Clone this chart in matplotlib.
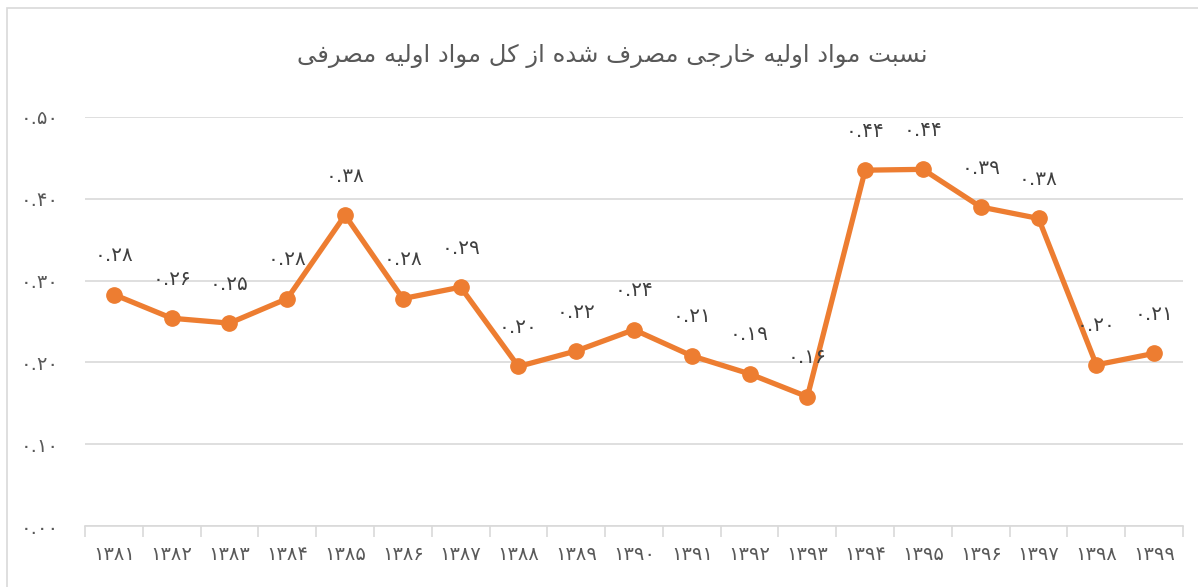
import matplotlib.pyplot as plt
from matplotlib.patches import Rectangle

# Persian chart: share of imported raw materials in total raw materials used
years = ['۱۳۸۱', '۱۳۸۲', '۱۳۸۳', '۱۳۸۴', '۱۳۸۵', '۱۳۸۶', '۱۳۸۷', '۱۳۸۸', '۱۳۸۹', '۱۳۹۰',
         '۱۳۹۱', '۱۳۹۲', '۱۳۹۳', '۱۳۹۴', '۱۳۹۵', '۱۳۹۶', '۱۳۹۷', '۱۳۹۸', '۱۳۹۹']
values = [0.283, 0.254, 0.248, 0.278, 0.380, 0.278, 0.292, 0.195, 0.214, 0.240,
          0.208, 0.186, 0.158, 0.435, 0.436, 0.390, 0.376, 0.197, 0.211]
value_labels = ['۰.۲۸', '۰.۲۶', '۰.۲۵', '۰.۲۸', '۰.۳۸', '۰.۲۸', '۰.۲۹', '۰.۲۰', '۰.۲۲', '۰.۲۴',
                '۰.۲۱', '۰.۱۹', '۰.۱۶', '۰.۴۴', '۰.۴۴', '۰.۳۹', '۰.۳۸', '۰.۲۰', '۰.۲۱']
ytick_vals = [0.0, 0.1, 0.2, 0.3, 0.4, 0.5]
ytick_labels = ['۰.۰۰', '۰.۱۰', '۰.۲۰', '۰.۳۰', '۰.۴۰', '۰.۵۰']
title = 'نسبت مواد اولیه خارجی مصرف شده از کل مواد اولیه مصرفی'

# matplotlib has no arabic shaping, so pick presentation forms by hand
# forms: isolated, final, initial, medial
FORMS = {
    'ا': ('\uFE8D', '\uFE8E', None, None),
    'ب': ('\uFE8F', '\uFE90', '\uFE91', '\uFE92'),
    'ت': ('\uFE95', '\uFE96', '\uFE97', '\uFE98'),
    'ج': ('\uFE9D', '\uFE9E', '\uFE9F', '\uFEA0'),
    'خ': ('\uFEA5', '\uFEA6', '\uFEA7', '\uFEA8'),
    'د': ('\uFEA9', '\uFEAA', None, None),
    'ر': ('\uFEAD', '\uFEAE', None, None),
    'ز': ('\uFEAF', '\uFEB0', None, None),
    'س': ('\uFEB1', '\uFEB2', '\uFEB3', '\uFEB4'),
    'ش': ('\uFEB5', '\uFEB6', '\uFEB7', '\uFEB8'),
    'ص': ('\uFEB9', '\uFEBA', '\uFEBB', '\uFEBC'),
    'ف': ('\uFED1', '\uFED2', '\uFED3', '\uFED4'),
    'ل': ('\uFEDD', '\uFEDE', '\uFEDF', '\uFEE0'),
    'م': ('\uFEE1', '\uFEE2', '\uFEE3', '\uFEE4'),
    'ن': ('\uFEE5', '\uFEE6', '\uFEE7', '\uFEE8'),
    'ه': ('\uFEE9', '\uFEEA', '\uFEEB', '\uFEEC'),
    'و': ('\uFEED', '\uFEEE', None, None),
    'ی': ('\uFBFC', '\uFBFD', '\uFBFE', '\uFBFF'),
    'ک': ('\uFB8E', '\uFB8F', '\uFB90', '\uFB91'),
}


def joins_next(ch):
    return ch in FORMS and FORMS[ch][2] is not None


def shape(text):
    out = []
    for i, ch in enumerate(text):
        if ch not in FORMS:
            out.append(ch)
            continue
        prev = text[i - 1] if i > 0 else ' '
        nxt = text[i + 1] if i < len(text) - 1 else ' '
        a = joins_next(prev)
        b = joins_next(ch) and nxt in FORMS
        iso, fin, ini, med = FORMS[ch]
        if a and b:
            out.append(med)
        elif a:
            out.append(fin)
        elif b:
            out.append(ini)
        else:
            out.append(iso)
    return ''.join(out)[::-1]


plt.rcParams['font.family'] = ['DejaVu Sans']
grey = '#595959'

fig = plt.figure(figsize=(11.98, 5.87), dpi=100)
fig.patches.append(Rectangle((7 / 1198, -0.1), 1.2, 1 - 8 / 587 + 0.1, transform=fig.transFigure,
                             fill=False, edgecolor='#d9d9d9', linewidth=1.2))
ax = fig.add_axes([85 / 1198, 1 - 526 / 587, 1098 / 1198, 409 / 587])

x = list(range(len(years)))
ax.plot(x, values, color='#ED7D31', linewidth=3.8, marker='o', markersize=11, zorder=3)
for xi, v, lab in zip(x, values, value_labels):
    ax.annotate(lab, (xi, v), xytext=(0, 28), textcoords='offset points',
                ha='center', va='center', fontsize=14.5, color='#404040')

ax.set_xlim(-0.5, len(years) - 0.5)
ax.set_ylim(0, 0.5)
ax.set_yticks(ytick_vals)
ax.set_yticklabels(ytick_labels)
ax.set_xticks(x)
ax.set_xticklabels(years)
ax.set_xticks([i - 0.5 for i in range(len(years) + 1)], minor=True)
ax.tick_params(axis='x', which='major', length=0, pad=14, labelsize=14, labelcolor=grey)
ax.tick_params(axis='x', which='minor', length=8, color='#d9d9d9', width=1.2)
ax.tick_params(axis='y', length=0, pad=46, labelsize=14, labelcolor=grey)
for lab in ax.get_yticklabels():
    lab.set_horizontalalignment('left')

ax.grid(axis='y', color='#d9d9d9', linewidth=1.2)
ax.set_axisbelow(True)
for s in ['top', 'right', 'left']:
    ax.spines[s].set_visible(False)
ax.spines['bottom'].set_color('#d9d9d9')
ax.spines['bottom'].set_linewidth(1.2)

fig.text(612 / 1198, 1 - 56 / 587, shape(title), ha='center', va='center', fontsize=17.5, color=grey)

plt.savefig('out.png', dpi=100)
